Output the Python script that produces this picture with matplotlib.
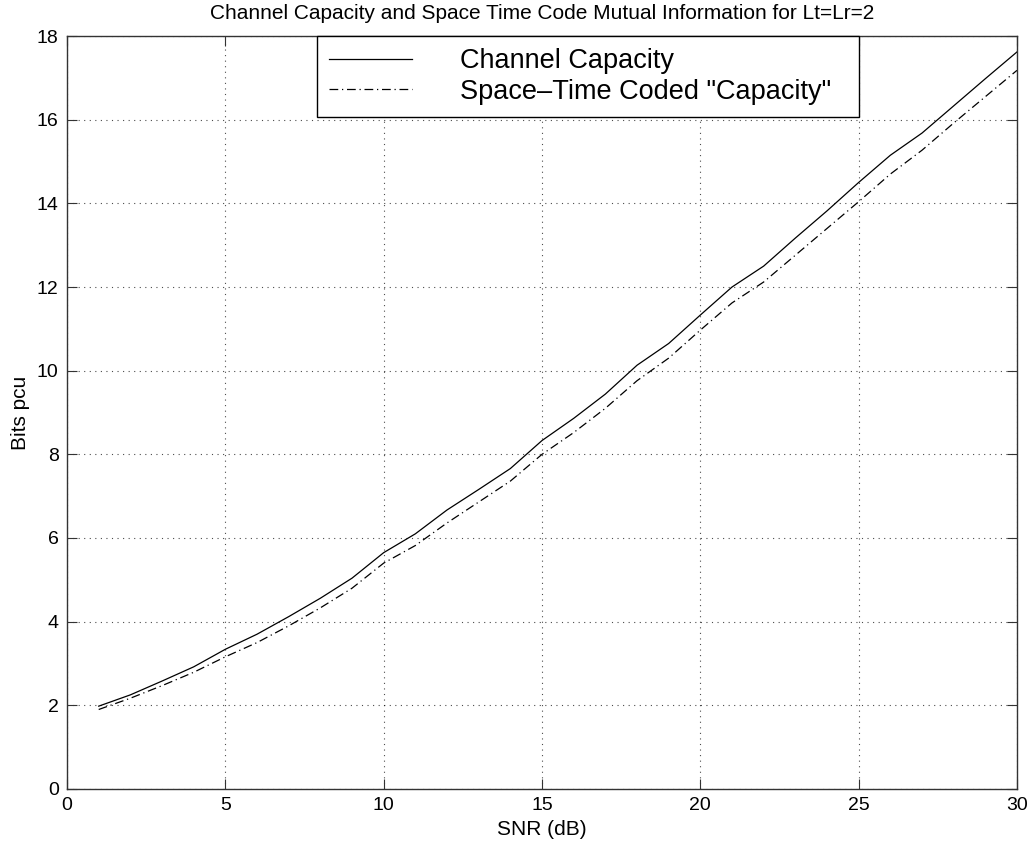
import numpy as np
import matplotlib
matplotlib.use('Agg')
import matplotlib.pyplot as plt

plt.rcParams['font.family'] = ['Liberation Sans', 'DejaVu Sans']

# SNR values (dB)
snr = list(range(1, 31))

# Channel capacity (solid)
capacity = [1.98, 2.25, 2.58, 2.92, 3.34, 3.70, 4.12, 4.56, 5.04, 5.65,
            6.10, 6.67, 7.16, 7.66, 8.33, 8.86, 9.44, 10.13, 10.65, 11.33,
            12.00, 12.50, 13.17, 13.82, 14.50, 15.15, 15.68, 16.33, 16.98, 17.62]

# Space-time coded "capacity" (dash-dot)
st_capacity = [1.90, 2.17, 2.47, 2.79, 3.16, 3.50, 3.90, 4.33, 4.80, 5.40,
               5.82, 6.36, 6.86, 7.36, 8.00, 8.52, 9.10, 9.76, 10.30, 10.97,
               11.62, 12.12, 12.76, 13.40, 14.04, 14.70, 15.27, 15.92, 16.55, 17.18]

fig = plt.figure(figsize=(10.33, 8.46), dpi=100)
ax = fig.add_axes([0.0649, 0.0674, 0.9196, 0.89])

ax.plot(snr, capacity, color='black', linewidth=0.9, label='Channel Capacity')
ax.plot(snr, st_capacity, color='black', linewidth=0.9,
        linestyle=(0, (7, 3, 1, 3)), label='Space\u2013Time Coded "Capacity"')

ax.set_xlim(0, 30)
ax.set_ylim(0, 18)
ax.set_xticks(range(0, 31, 5))
ax.set_yticks(range(0, 19, 2))
ax.tick_params(direction='in', top=True, right=True, length=7, width=0.8,
               labelsize=14, pad=6, color='#333333')
ax.grid(True, linestyle=(0, (1, 4)), color='black', linewidth=0.8, alpha=0.7)
for s in ax.spines.values():
    s.set_linewidth(1.0)
    s.set_color('#333333')

ax.set_xlabel('SNR (dB)', fontsize=15, labelpad=4)
ax.set_ylabel('Bits pcu', fontsize=15, labelpad=5)
ax.set_title('Channel Capacity and Space Time Code Mutual Information for Lt=Lr=2',
             fontsize=15, pad=12)

leg = ax.legend(loc='upper left', bbox_to_anchor=(0.263, 0.0, 0.571, 1.0),
                mode='expand', borderaxespad=0, fontsize=19.5, handlelength=3.05,
                handletextpad=1.8, labelspacing=0.16, borderpad=0.45,
                fancybox=False, framealpha=1, edgecolor='black')
leg.get_frame().set_linewidth(1.0)

fig.savefig('out.png', dpi=100)
